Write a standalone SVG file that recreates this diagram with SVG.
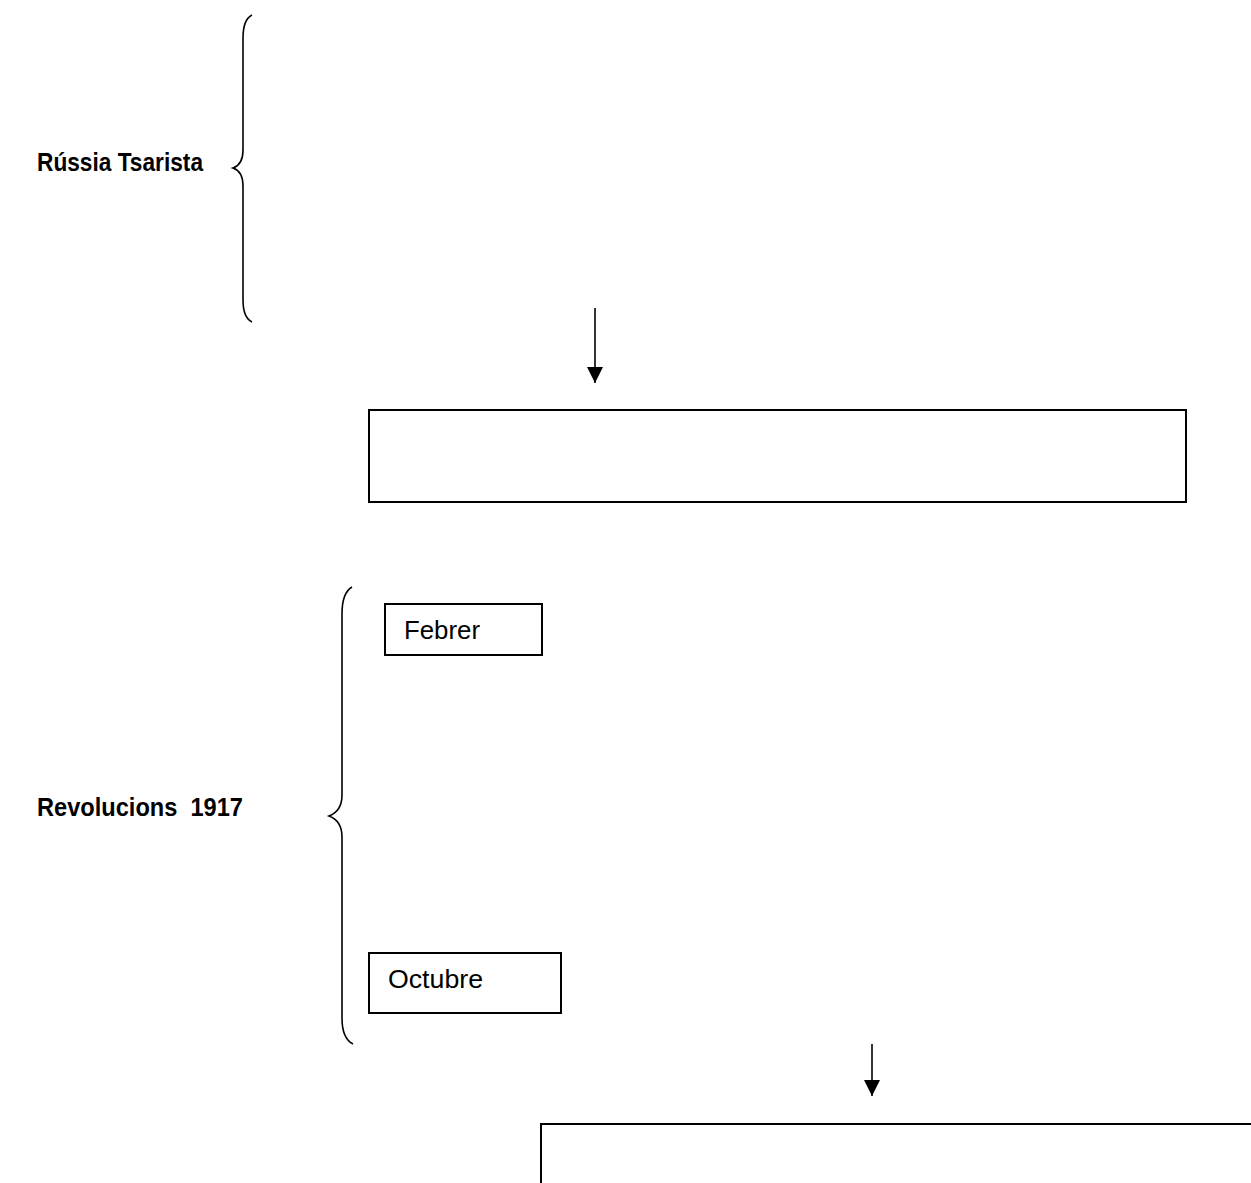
<svg xmlns="http://www.w3.org/2000/svg" width="1251" height="1183" viewBox="0 0 1251 1183">
<style>
.bg{fill:#ffffff}
.brace{fill:none;stroke:#000;stroke-width:1.6}
.box{fill:#ffffff;stroke:#000;stroke-width:2}
.conn{stroke:#000;stroke-width:1.6;fill:none}
.lbl{font-family:"Liberation Sans",Arial,sans-serif;font-weight:bold;font-size:25px;fill:#000}
.txt{font-family:"Liberation Sans",Arial,sans-serif;font-size:26px;fill:#000}
</style>
<defs>
<marker id="arr" markerWidth="16" markerHeight="16" refX="16" refY="8" orient="auto" markerUnits="userSpaceOnUse" viewBox="0 0 16 16">
<path d="M0,0 L16,8 L0,16 Z" fill="#000"/>
</marker>
</defs>
<rect class="bg" x="0" y="0" width="1251" height="1183"/>
<g id="russia-tsarista">
<text class="lbl" x="37" y="171" textLength="166" lengthAdjust="spacingAndGlyphs">Rússia Tsarista</text>
<path class="brace" d="M252,15 C246,18 243,26 243,38 L243,150 C243,160 239,166 233,168 C239,170 243,176 243,186 L243,300 C243,312 246,319 252,322"/>
</g>
<g id="box1">
<rect class="box" x="369" y="410" width="817" height="92"/>
</g>
<g id="revolucions-1917">
<text class="lbl" x="37" y="816" xml:space="preserve" textLength="206" lengthAdjust="spacingAndGlyphs">Revolucions  1917</text>
<path class="brace" d="M352,587 C345,591 342,600 342,614 L342,795 C342,807 337,813 329,816 C337,819 342,825 342,837 L342,1018 C342,1032 345,1040 353,1044"/>
</g>
<g id="febrer">
<rect class="box" x="385" y="604" width="157" height="51"/>
<text class="txt" x="404" y="639" textLength="76" lengthAdjust="spacingAndGlyphs">Febrer</text>
</g>
<g id="octubre">
<rect class="box" x="369" y="953" width="192" height="60"/>
<text class="txt" x="388" y="988" textLength="95" lengthAdjust="spacingAndGlyphs">Octubre</text>
</g>
<g id="box2">
<rect class="box" x="541" y="1124" width="760" height="120"/>
</g>
<g id="connectors">
<line class="conn" x1="595" y1="308" x2="595" y2="383" marker-end="url(#arr)"/>
<line class="conn" x1="872" y1="1044" x2="872" y2="1096" marker-end="url(#arr)"/>
</g>
</svg>
